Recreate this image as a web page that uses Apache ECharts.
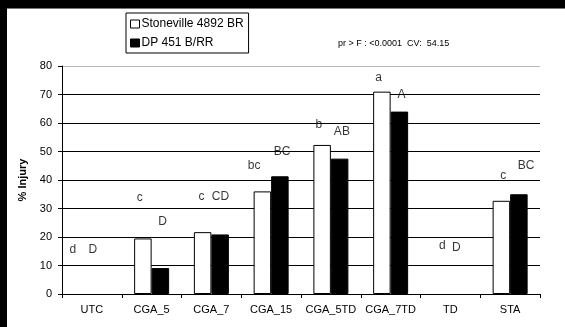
<!DOCTYPE html>
<html>
<head>
<meta charset="utf-8">
<script src="https://cdn.jsdelivr.net/npm/echarts@6/dist/echarts.min.js"></script>
<style>
html,body{margin:0;padding:0;background:#000;}
#chart{position:absolute;left:0;top:0;width:565px;height:327px;}
</style>
</head>
<body>
<div id="chart"></div>
<script>
// ---- data ----
var categories = ['UTC', 'CGA_5', 'CGA_7', 'CGA_15', 'CGA_5TD', 'CGA_7TD', 'TD', 'STA'];
var seriesNames = ['Stoneville 4892 BR', 'DP 451 B/RR'];
var stonevilleValues = [0, 19.5, 21.7, 36.0, 52.3, 71.0, 0, 32.7];
var dpValues = [0, 9.1, 20.9, 41.3, 47.5, 64.0, 0, 35.0];
// mean-separation letters and the heights (in % injury) at which they are written
var stonevilleLetters = ['d', 'c', 'c', 'bc', 'b', 'a', 'd', 'c'];
var stonevilleLetterHeights = [15.4, 33.8, 34.0, 45.0, 59.3, 76.0, 16.8, 41.4];
var dpLetters = ['D', 'D', 'CD', 'BC', 'AB', 'A', 'D', 'BC'];
var dpLetterHeights = [15.4, 25.3, 34.0, 50.0, 57.0, 70.0, 16.3, 45.0];
var yTicks = [0, 10, 20, 30, 40, 50, 60, 70, 80];
var statsNote = 'pr > F : <0.0001  CV:  54.15';

// ---- layout of the letters (horizontal nudges, px) ----
var stonevilleLetterDx = [-19, -12, -10, -17, -12, -12, -8, -7];
var dpLetterDx = [1, 11, 9, 11, 11, 11, 6, 16];

var FONT = '"Liberation Sans", Arial, sans-serif';

function letterData(heights, letters, dx) {
  return heights.map(function (h, i) {
    return {
      value: [categories[i], h],
      label: { formatter: letters[i], offset: [dx[i], 0] }
    };
  });
}
function barData(values) {
  // zero-height bars leave no visible outline, as in the original
  return values.map(function (v) {
    return v === 0 ? { value: v, itemStyle: { borderWidth: 0 } } : v;
  });
}

var chart = echarts.init(document.getElementById('chart'), null, { renderer: 'canvas' });
var splitColors = yTicks.map(function (t, i) { return i === yTicks.length - 1 ? '#b8b8b8' : '#000'; });

chart.setOption({
  animation: false,
  textStyle: { fontFamily: FONT },
  grid: { left: 62, right: 25, top: 66, bottom: 33, containLabel: false },
  legend: {
    orient: 'vertical',
    left: 126, top: 13,
    data: [
      { name: seriesNames[0], icon: 'rect', itemStyle: { color: '#fff', borderColor: '#000', borderWidth: 1 } },
      { name: seriesNames[1], icon: 'rect', itemStyle: { color: '#000', borderColor: '#000', borderWidth: 1 } }
    ],
    itemWidth: 9, itemHeight: 8, itemGap: 5,
    padding: [4, 5, 3, 4],
    borderColor: '#000', borderWidth: 1,
    backgroundColor: '#fff',
    textStyle: { fontFamily: FONT, fontSize: 12, color: '#000', lineHeight: 14, padding: [0, 0, 0, -3] }
  },
  graphic: [
    { type: 'rect', silent: true, z: -10, shape: { x: 7, y: 9, width: 558, height: 318 }, style: { fill: '#fff' } },
    { type: 'rect', silent: true, z: -10, shape: { x: 7, y: 8, width: 558, height: 1 }, style: { fill: '#777' } },
    { type: 'text', left: 338, top: 39, style: { text: statsNote, font: '9px ' + FONT, fill: '#000' } }
  ],
  xAxis: {
    type: 'category',
    data: categories,
    axisLine: { lineStyle: { color: '#000', width: 1 } },
    axisTick: { show: true, length: 4, inside: false, lineStyle: { color: '#000' } },
    axisLabel: { color: '#000', fontSize: 11, fontFamily: FONT, margin: 10, interval: 0 },
    splitLine: { show: false }
  },
  yAxis: {
    type: 'value',
    min: 0, max: 80, interval: 10,
    name: '% Injury',
    nameLocation: 'middle',
    nameGap: 29,
    nameTextStyle: { fontWeight: 'bold', fontSize: 11, color: '#000', fontFamily: FONT },
    axisLine: { show: true, lineStyle: { color: '#000', width: 1 } },
    axisTick: { show: true, length: 4, lineStyle: { color: '#000' } },
    axisLabel: { color: '#000', fontSize: 11, fontFamily: FONT, margin: 10 },
    splitLine: { show: true, lineStyle: { color: splitColors, width: 1 } }
  },
  series: [
    {
      name: seriesNames[0], type: 'bar', data: barData(stonevilleValues),
      barWidth: 17.5, barGap: '0%',
      itemStyle: { color: '#fff', borderColor: '#000', borderWidth: 1 }
    },
    {
      name: seriesNames[1], type: 'bar', data: barData(dpValues),
      barWidth: 17.5, barGap: '0%',
      itemStyle: { color: '#000', borderColor: '#000', borderWidth: 1 }
    },
    {
      name: 'letters1', type: 'scatter', symbolSize: 1,
      itemStyle: { color: 'rgba(0,0,0,0)' },
      label: { show: true, position: 'inside', color: '#000', fontSize: 12, fontFamily: FONT },
      data: letterData(stonevilleLetterHeights, stonevilleLetters, stonevilleLetterDx), z: 5
    },
    {
      name: 'letters2', type: 'scatter', symbolSize: 1,
      itemStyle: { color: 'rgba(0,0,0,0)' },
      label: { show: true, position: 'inside', color: '#000', fontSize: 12, fontFamily: FONT },
      data: letterData(dpLetterHeights, dpLetters, dpLetterDx), z: 5
    }
  ]
});
</script>
</body>
</html>
